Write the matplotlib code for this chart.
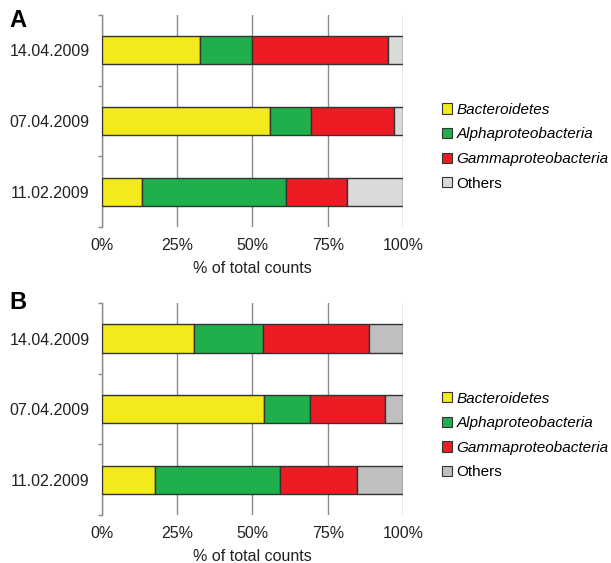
import numpy as np
import matplotlib
matplotlib.use("Agg")
import matplotlib.pyplot as plt
from matplotlib.patches import Patch

plt.rcParams['font.family'] = ['Liberation Sans', 'DejaVu Sans']

dates = ['11.02.2009', '07.04.2009', '14.04.2009']
groups = ['Bacteroidetes', 'Alphaproteobacteria', 'Gammaproteobacteria', 'Others']

# percent of total counts, rows follow dates
panel_a = [
    [13.2, 47.8, 20.5, 18.5],
    [55.8, 13.7, 27.5, 3.0],
    [32.6, 17.1, 45.2, 5.1],
]
panel_b = [
    [17.7, 41.3, 25.6, 15.4],
    [53.9, 15.1, 25.1, 5.9],
    [30.7, 22.7, 35.4, 11.2],
]

colors_a = ['#f2ea1a', '#20b04b', '#ed1c24', '#dadada']
colors_b = ['#f2ea1a', '#20b04b', '#ed1c24', '#bfbfbf']

fig = plt.figure(figsize=(6.11, 5.63), dpi=100)


def draw_panel(rect, data, colors, letter, letter_y, leg_y):
    ax = fig.add_axes(rect)
    data = np.array(data)
    y = np.arange(len(dates))
    left = np.zeros(len(dates))
    for j in range(len(groups)):
        ax.barh(y, data[:, j], left=left, height=0.4, color=colors[j],
                edgecolor='#333333', linewidth=1.0, zorder=3)
        left += data[:, j]
    ax.set_xlim(0, 100)
    ax.set_ylim(-0.5, len(dates) - 0.5)
    ax.set_xticks([0, 25, 50, 75, 100])
    ax.set_xticklabels(['0%', '25%', '50%', '75%', '100%'], fontsize=11.5)
    ax.tick_params(axis='x', length=0, pad=8, colors='#222222')
    ax.xaxis.grid(True, color='#8c8c8c', linewidth=1.0, zorder=0)
    ax.set_yticks(np.arange(-0.5, len(dates)), minor=False)
    ax.set_yticklabels([])
    ax.set_yticks(y, minor=True)
    ax.set_yticklabels(dates, minor=True, fontsize=11.5, color='#222222')
    ax.tick_params(axis='y', which='major', length=3, color='#8c8c8c', width=1)
    ax.tick_params(axis='y', which='minor', length=0, pad=9)
    for s in ['top', 'right', 'bottom']:
        ax.spines[s].set_visible(False)
    ax.spines['left'].set_color('#8c8c8c')
    ax.spines['left'].set_linewidth(1.0)
    ax.set_xlabel('% of total counts', fontsize=11.5, color='#222222', labelpad=6)
    ax.set_axisbelow(True)
    fig.text(0.016, letter_y, letter, fontsize=17,
             fontweight='bold', va='center', ha='left')
    handles = [Patch(facecolor=c, edgecolor='#333333', linewidth=0.8) for c in colors]
    leg = fig.legend(handles, groups, loc='upper left',
                     bbox_to_anchor=(0.713, leg_y), frameon=False, fontsize=11,
                     handlelength=0.65, handleheight=0.65, handletextpad=0.3,
                     labelspacing=0.69, borderaxespad=0)
    for t in leg.get_texts()[:3]:
        t.set_fontstyle('italic')
    return ax


draw_panel([0.1669, 0.5968, 0.4926, 0.3766], panel_a, colors_a, 'A', 0.963, 0.828)
draw_panel([0.1669, 0.0853, 0.4926, 0.3760], panel_b, colors_b, 'B', 0.462, 0.315)

fig.savefig('out.png', dpi=100)
